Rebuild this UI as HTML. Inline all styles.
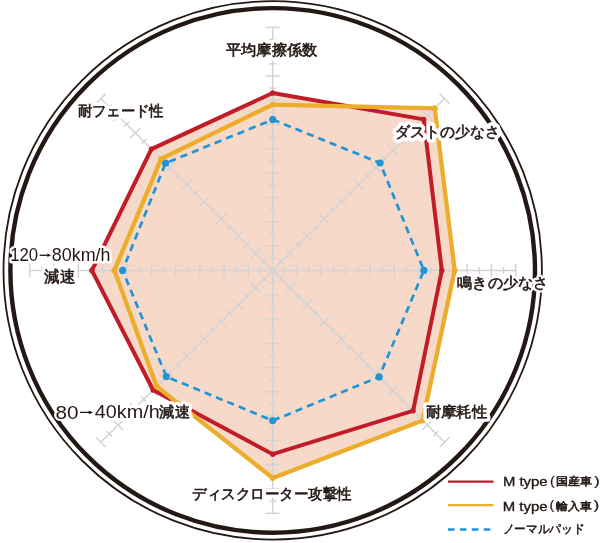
<!DOCTYPE html>
<html lang="ja"><head><meta charset="utf-8">
<style>
html,body{margin:0;padding:0;background:#fff;width:600px;height:543px;overflow:hidden}
svg{display:block;will-change:transform}
text{font-family:"Liberation Sans",sans-serif;font-size:15px;fill:#231815;stroke:#231815;stroke-width:0.6px}
.lat{stroke-width:0}
.halo text{stroke:#fff;stroke-width:9px;stroke-linejoin:round;fill:#fff}
</style></head><body>
<svg width="600" height="543" viewBox="0 0 600 543">
<rect width="600" height="543" fill="#fff"/>
<circle cx="272.7" cy="270.4" r="269.2" fill="none" stroke="#231815" stroke-width="1.8"/>
<circle cx="272.7" cy="270.4" r="262.3" fill="none" stroke="#231815" stroke-width="4.4"/>
<polygon points="272.70,93.00 423.70,119.40 441.80,270.40 413.10,410.80 272.70,454.20 153.10,390.00 91.90,270.40 151.40,149.10" fill="#f7d9c9"/>
<polygon points="272.70,104.60 434.70,108.40 454.70,270.40 422.70,420.40 272.70,478.00 156.70,386.40 114.40,270.40 161.10,158.80" fill="#f7d9c9"/>
<g stroke="#d3d3d6" stroke-width="1.5" fill="none"><line x1="272.70" y1="270.40" x2="272.70" y2="27.40"/><line x1="276.20" y1="258.25" x2="269.20" y2="258.25"/><line x1="279.70" y1="246.10" x2="265.70" y2="246.10"/><line x1="276.20" y1="233.95" x2="269.20" y2="233.95"/><line x1="279.70" y1="221.80" x2="265.70" y2="221.80"/><line x1="276.20" y1="209.65" x2="269.20" y2="209.65"/><line x1="279.70" y1="197.50" x2="265.70" y2="197.50"/><line x1="276.20" y1="185.35" x2="269.20" y2="185.35"/><line x1="279.70" y1="173.20" x2="265.70" y2="173.20"/><line x1="276.20" y1="161.05" x2="269.20" y2="161.05"/><line x1="279.70" y1="148.90" x2="265.70" y2="148.90"/><line x1="276.20" y1="136.75" x2="269.20" y2="136.75"/><line x1="279.70" y1="124.60" x2="265.70" y2="124.60"/><line x1="276.20" y1="112.45" x2="269.20" y2="112.45"/><line x1="279.70" y1="100.30" x2="265.70" y2="100.30"/><line x1="276.20" y1="88.15" x2="269.20" y2="88.15"/><line x1="279.70" y1="76.00" x2="265.70" y2="76.00"/><line x1="276.20" y1="63.85" x2="269.20" y2="63.85"/><line x1="279.70" y1="51.70" x2="265.70" y2="51.70"/><line x1="276.20" y1="39.55" x2="269.20" y2="39.55"/><line x1="279.70" y1="27.40" x2="265.70" y2="27.40"/><line x1="272.70" y1="270.40" x2="444.53" y2="98.57"/><line x1="283.77" y1="264.28" x2="278.82" y2="259.33"/><line x1="294.83" y1="258.17" x2="284.93" y2="248.27"/><line x1="300.95" y1="247.10" x2="296.00" y2="242.15"/><line x1="312.02" y1="240.98" x2="302.12" y2="231.08"/><line x1="318.13" y1="229.92" x2="313.18" y2="224.97"/><line x1="329.20" y1="223.80" x2="319.30" y2="213.90"/><line x1="335.31" y1="212.74" x2="330.36" y2="207.79"/><line x1="346.38" y1="206.62" x2="336.48" y2="196.72"/><line x1="352.50" y1="195.55" x2="347.55" y2="190.60"/><line x1="363.56" y1="189.44" x2="353.66" y2="179.54"/><line x1="369.68" y1="178.37" x2="364.73" y2="173.42"/><line x1="380.75" y1="172.25" x2="370.85" y2="162.35"/><line x1="386.86" y1="161.19" x2="381.91" y2="156.24"/><line x1="397.93" y1="155.07" x2="388.03" y2="145.17"/><line x1="404.05" y1="144.00" x2="399.10" y2="139.05"/><line x1="415.11" y1="137.89" x2="405.21" y2="127.99"/><line x1="421.23" y1="126.82" x2="416.28" y2="121.87"/><line x1="432.29" y1="120.71" x2="422.39" y2="110.81"/><line x1="438.41" y1="109.64" x2="433.46" y2="104.69"/><line x1="449.48" y1="103.52" x2="439.58" y2="93.62"/><line x1="272.70" y1="270.40" x2="515.70" y2="270.40"/><line x1="284.85" y1="273.90" x2="284.85" y2="266.90"/><line x1="297.00" y1="277.40" x2="297.00" y2="263.40"/><line x1="309.15" y1="273.90" x2="309.15" y2="266.90"/><line x1="321.30" y1="277.40" x2="321.30" y2="263.40"/><line x1="333.45" y1="273.90" x2="333.45" y2="266.90"/><line x1="345.60" y1="277.40" x2="345.60" y2="263.40"/><line x1="357.75" y1="273.90" x2="357.75" y2="266.90"/><line x1="369.90" y1="277.40" x2="369.90" y2="263.40"/><line x1="382.05" y1="273.90" x2="382.05" y2="266.90"/><line x1="394.20" y1="277.40" x2="394.20" y2="263.40"/><line x1="406.35" y1="273.90" x2="406.35" y2="266.90"/><line x1="418.50" y1="277.40" x2="418.50" y2="263.40"/><line x1="430.65" y1="273.90" x2="430.65" y2="266.90"/><line x1="442.80" y1="277.40" x2="442.80" y2="263.40"/><line x1="454.95" y1="273.90" x2="454.95" y2="266.90"/><line x1="467.10" y1="277.40" x2="467.10" y2="263.40"/><line x1="479.25" y1="273.90" x2="479.25" y2="266.90"/><line x1="491.40" y1="277.40" x2="491.40" y2="263.40"/><line x1="503.55" y1="273.90" x2="503.55" y2="266.90"/><line x1="515.70" y1="277.40" x2="515.70" y2="263.40"/><line x1="272.70" y1="270.40" x2="444.53" y2="442.23"/><line x1="278.82" y1="281.47" x2="283.77" y2="276.52"/><line x1="284.93" y1="292.53" x2="294.83" y2="282.63"/><line x1="296.00" y1="298.65" x2="300.95" y2="293.70"/><line x1="302.12" y1="309.72" x2="312.02" y2="299.82"/><line x1="313.18" y1="315.83" x2="318.13" y2="310.88"/><line x1="319.30" y1="326.90" x2="329.20" y2="317.00"/><line x1="330.36" y1="333.01" x2="335.31" y2="328.06"/><line x1="336.48" y1="344.08" x2="346.38" y2="334.18"/><line x1="347.55" y1="350.20" x2="352.50" y2="345.25"/><line x1="353.66" y1="361.26" x2="363.56" y2="351.36"/><line x1="364.73" y1="367.38" x2="369.68" y2="362.43"/><line x1="370.85" y1="378.45" x2="380.75" y2="368.55"/><line x1="381.91" y1="384.56" x2="386.86" y2="379.61"/><line x1="388.03" y1="395.63" x2="397.93" y2="385.73"/><line x1="399.10" y1="401.75" x2="404.05" y2="396.80"/><line x1="405.21" y1="412.81" x2="415.11" y2="402.91"/><line x1="416.28" y1="418.93" x2="421.23" y2="413.98"/><line x1="422.39" y1="429.99" x2="432.29" y2="420.09"/><line x1="433.46" y1="436.11" x2="438.41" y2="431.16"/><line x1="439.58" y1="447.18" x2="449.48" y2="437.28"/><line x1="272.70" y1="270.40" x2="272.70" y2="513.40"/><line x1="269.20" y1="282.55" x2="276.20" y2="282.55"/><line x1="265.70" y1="294.70" x2="279.70" y2="294.70"/><line x1="269.20" y1="306.85" x2="276.20" y2="306.85"/><line x1="265.70" y1="319.00" x2="279.70" y2="319.00"/><line x1="269.20" y1="331.15" x2="276.20" y2="331.15"/><line x1="265.70" y1="343.30" x2="279.70" y2="343.30"/><line x1="269.20" y1="355.45" x2="276.20" y2="355.45"/><line x1="265.70" y1="367.60" x2="279.70" y2="367.60"/><line x1="269.20" y1="379.75" x2="276.20" y2="379.75"/><line x1="265.70" y1="391.90" x2="279.70" y2="391.90"/><line x1="269.20" y1="404.05" x2="276.20" y2="404.05"/><line x1="265.70" y1="416.20" x2="279.70" y2="416.20"/><line x1="269.20" y1="428.35" x2="276.20" y2="428.35"/><line x1="265.70" y1="440.50" x2="279.70" y2="440.50"/><line x1="269.20" y1="452.65" x2="276.20" y2="452.65"/><line x1="265.70" y1="464.80" x2="279.70" y2="464.80"/><line x1="269.20" y1="476.95" x2="276.20" y2="476.95"/><line x1="265.70" y1="489.10" x2="279.70" y2="489.10"/><line x1="269.20" y1="501.25" x2="276.20" y2="501.25"/><line x1="265.70" y1="513.40" x2="279.70" y2="513.40"/><line x1="272.70" y1="270.40" x2="100.87" y2="442.23"/><line x1="261.63" y1="276.52" x2="266.58" y2="281.47"/><line x1="250.57" y1="282.63" x2="260.47" y2="292.53"/><line x1="244.45" y1="293.70" x2="249.40" y2="298.65"/><line x1="233.38" y1="299.82" x2="243.28" y2="309.72"/><line x1="227.27" y1="310.88" x2="232.22" y2="315.83"/><line x1="216.20" y1="317.00" x2="226.10" y2="326.90"/><line x1="210.09" y1="328.06" x2="215.04" y2="333.01"/><line x1="199.02" y1="334.18" x2="208.92" y2="344.08"/><line x1="192.90" y1="345.25" x2="197.85" y2="350.20"/><line x1="181.84" y1="351.36" x2="191.74" y2="361.26"/><line x1="175.72" y1="362.43" x2="180.67" y2="367.38"/><line x1="164.65" y1="368.55" x2="174.55" y2="378.45"/><line x1="158.54" y1="379.61" x2="163.49" y2="384.56"/><line x1="147.47" y1="385.73" x2="157.37" y2="395.63"/><line x1="141.35" y1="396.80" x2="146.30" y2="401.75"/><line x1="130.29" y1="402.91" x2="140.19" y2="412.81"/><line x1="124.17" y1="413.98" x2="129.12" y2="418.93"/><line x1="113.11" y1="420.09" x2="123.01" y2="429.99"/><line x1="106.99" y1="431.16" x2="111.94" y2="436.11"/><line x1="95.92" y1="437.28" x2="105.82" y2="447.18"/><line x1="272.70" y1="270.40" x2="29.70" y2="270.40"/><line x1="260.55" y1="266.90" x2="260.55" y2="273.90"/><line x1="248.40" y1="263.40" x2="248.40" y2="277.40"/><line x1="236.25" y1="266.90" x2="236.25" y2="273.90"/><line x1="224.10" y1="263.40" x2="224.10" y2="277.40"/><line x1="211.95" y1="266.90" x2="211.95" y2="273.90"/><line x1="199.80" y1="263.40" x2="199.80" y2="277.40"/><line x1="187.65" y1="266.90" x2="187.65" y2="273.90"/><line x1="175.50" y1="263.40" x2="175.50" y2="277.40"/><line x1="163.35" y1="266.90" x2="163.35" y2="273.90"/><line x1="151.20" y1="263.40" x2="151.20" y2="277.40"/><line x1="139.05" y1="266.90" x2="139.05" y2="273.90"/><line x1="126.90" y1="263.40" x2="126.90" y2="277.40"/><line x1="114.75" y1="266.90" x2="114.75" y2="273.90"/><line x1="102.60" y1="263.40" x2="102.60" y2="277.40"/><line x1="90.45" y1="266.90" x2="90.45" y2="273.90"/><line x1="78.30" y1="263.40" x2="78.30" y2="277.40"/><line x1="66.15" y1="266.90" x2="66.15" y2="273.90"/><line x1="54.00" y1="263.40" x2="54.00" y2="277.40"/><line x1="41.85" y1="266.90" x2="41.85" y2="273.90"/><line x1="29.70" y1="263.40" x2="29.70" y2="277.40"/><line x1="272.70" y1="270.40" x2="100.87" y2="98.57"/><line x1="266.58" y1="259.33" x2="261.63" y2="264.28"/><line x1="260.47" y1="248.27" x2="250.57" y2="258.17"/><line x1="249.40" y1="242.15" x2="244.45" y2="247.10"/><line x1="243.28" y1="231.08" x2="233.38" y2="240.98"/><line x1="232.22" y1="224.97" x2="227.27" y2="229.92"/><line x1="226.10" y1="213.90" x2="216.20" y2="223.80"/><line x1="215.04" y1="207.79" x2="210.09" y2="212.74"/><line x1="208.92" y1="196.72" x2="199.02" y2="206.62"/><line x1="197.85" y1="190.60" x2="192.90" y2="195.55"/><line x1="191.74" y1="179.54" x2="181.84" y2="189.44"/><line x1="180.67" y1="173.42" x2="175.72" y2="178.37"/><line x1="174.55" y1="162.35" x2="164.65" y2="172.25"/><line x1="163.49" y1="156.24" x2="158.54" y2="161.19"/><line x1="157.37" y1="145.17" x2="147.47" y2="155.07"/><line x1="146.30" y1="139.05" x2="141.35" y2="144.00"/><line x1="140.19" y1="127.99" x2="130.29" y2="137.89"/><line x1="129.12" y1="121.87" x2="124.17" y2="126.82"/><line x1="123.01" y1="110.81" x2="113.11" y2="120.71"/><line x1="111.94" y1="104.69" x2="106.99" y2="109.64"/><line x1="105.82" y1="93.62" x2="95.92" y2="103.52"/></g>
<polygon points="272.70,119.60 380.10,163.00 423.90,270.40 379.20,376.90 272.70,420.60 166.40,376.70 122.60,270.40 165.50,163.20" fill="none" stroke="#1f95d6" stroke-width="2.7" stroke-dasharray="7.2 5.1"/>
<circle cx="272.70" cy="119.60" r="3.6" fill="#1f95d6"/><circle cx="380.10" cy="163.00" r="3.6" fill="#1f95d6"/><circle cx="423.90" cy="270.40" r="3.6" fill="#1f95d6"/><circle cx="379.20" cy="376.90" r="3.6" fill="#1f95d6"/><circle cx="272.70" cy="420.60" r="3.6" fill="#1f95d6"/><circle cx="166.40" cy="376.70" r="3.6" fill="#1f95d6"/><circle cx="122.60" cy="270.40" r="3.6" fill="#1f95d6"/><circle cx="165.50" cy="163.20" r="3.6" fill="#1f95d6"/>
<polygon points="272.70,93.00 423.70,119.40 441.80,270.40 413.10,410.80 272.70,454.20 153.10,390.00 91.90,270.40 151.40,149.10" fill="none" stroke="#c21c28" stroke-width="4" stroke-linejoin="miter"/>
<circle cx="272.70" cy="93.00" r="2.7" fill="#c21c28"/><circle cx="423.70" cy="119.40" r="2.7" fill="#c21c28"/><circle cx="441.80" cy="270.40" r="2.7" fill="#c21c28"/><circle cx="413.10" cy="410.80" r="2.7" fill="#c21c28"/><circle cx="272.70" cy="454.20" r="2.7" fill="#c21c28"/><circle cx="153.10" cy="390.00" r="2.7" fill="#c21c28"/><circle cx="91.90" cy="270.40" r="2.7" fill="#c21c28"/><circle cx="151.40" cy="149.10" r="2.7" fill="#c21c28"/>
<polygon points="272.70,104.60 434.70,108.40 454.70,270.40 422.70,420.40 272.70,478.00 156.70,386.40 114.40,270.40 161.10,158.80" fill="none" stroke="#ebad2b" stroke-width="4.3" stroke-linejoin="miter"/>
<circle cx="272.70" cy="104.60" r="2.9" fill="#ebad2b"/><circle cx="434.70" cy="108.40" r="2.9" fill="#ebad2b"/><circle cx="454.70" cy="270.40" r="2.9" fill="#ebad2b"/><circle cx="422.70" cy="420.40" r="2.9" fill="#ebad2b"/><circle cx="272.70" cy="478.00" r="2.9" fill="#ebad2b"/><circle cx="156.70" cy="386.40" r="2.9" fill="#ebad2b"/><circle cx="114.40" cy="270.40" r="2.9" fill="#ebad2b"/><circle cx="161.10" cy="158.80" r="2.9" fill="#ebad2b"/>
<g class="halo"><text x="225.75" y="55.12" style="font-size:15.00px;stroke-width:7px" textLength="92.00" lengthAdjust="spacingAndGlyphs">平均摩擦係数</text><text x="395.20" y="136.62" style="font-size:15.00px;stroke-width:8px" textLength="104.40" lengthAdjust="spacingAndGlyphs">ダストの少なさ</text><text x="457.40" y="288.35" style="font-size:15.00px;stroke-width:5px" textLength="90.60" lengthAdjust="spacingAndGlyphs">鳴きの少なさ</text><text x="425.70" y="416.73" style="font-size:15.00px;stroke-width:7px" textLength="61.60" lengthAdjust="spacingAndGlyphs">耐摩耗性</text><text x="192.00" y="498.58" style="font-size:15.00px;stroke-width:7px" textLength="159.75" lengthAdjust="spacingAndGlyphs">ディスクローター攻撃性</text><text x="55.60" y="418.50" style="font-size:17.88px;stroke-width:4px" textLength="23.00" lengthAdjust="spacingAndGlyphs">80</text><text x="94.80" y="418.30" style="font-size:18.15px;stroke-width:7px" textLength="64.90" lengthAdjust="spacingAndGlyphs">40km/h</text><text x="159.40" y="417.32" style="font-size:15.00px;stroke-width:7px" textLength="30.45" lengthAdjust="spacingAndGlyphs">減速</text><text x="10.25" y="261.00" style="font-size:17.88px;stroke-width:5px" textLength="27.95" lengthAdjust="spacingAndGlyphs">120</text><text x="51.80" y="260.75" style="font-size:17.88px;stroke-width:5px" textLength="58.70" lengthAdjust="spacingAndGlyphs">80km/h</text><text x="44.00" y="281.68" style="font-size:15.50px;stroke-width:7px" textLength="31.00" lengthAdjust="spacingAndGlyphs">減速</text><text x="77.50" y="116.28" style="font-size:15.00px;stroke-width:7px" textLength="86.25" lengthAdjust="spacingAndGlyphs">耐フェード性</text></g>
<g><text x="225.75" y="55.12" style="font-size:15.00px" textLength="92.00" lengthAdjust="spacingAndGlyphs">平均摩擦係数</text><text x="395.20" y="136.62" style="font-size:15.00px" textLength="104.40" lengthAdjust="spacingAndGlyphs">ダストの少なさ</text><text x="457.40" y="288.35" style="font-size:15.00px" textLength="90.60" lengthAdjust="spacingAndGlyphs">鳴きの少なさ</text><text x="425.70" y="416.73" style="font-size:15.00px" textLength="61.60" lengthAdjust="spacingAndGlyphs">耐摩耗性</text><text x="192.00" y="498.58" style="font-size:15.00px" textLength="159.75" lengthAdjust="spacingAndGlyphs">ディスクローター攻撃性</text><text class="lat" x="55.60" y="418.50" style="font-size:17.88px" textLength="23.00" lengthAdjust="spacingAndGlyphs">80</text><text class="lat" x="94.80" y="418.30" style="font-size:18.15px" textLength="64.90" lengthAdjust="spacingAndGlyphs">40km/h</text><text x="159.40" y="417.32" style="font-size:15.00px" textLength="30.45" lengthAdjust="spacingAndGlyphs">減速</text><text class="lat" x="10.25" y="261.00" style="font-size:17.88px" textLength="27.95" lengthAdjust="spacingAndGlyphs">120</text><text class="lat" x="51.80" y="260.75" style="font-size:17.88px" textLength="58.70" lengthAdjust="spacingAndGlyphs">80km/h</text><text x="44.00" y="281.68" style="font-size:15.50px" textLength="31.00" lengthAdjust="spacingAndGlyphs">減速</text><text x="77.50" y="116.28" style="font-size:15.00px" textLength="86.25" lengthAdjust="spacingAndGlyphs">耐フェード性</text><path d="M39.70 255.30H47.80" stroke="#231815" stroke-width="1.3" fill="none"/><path d="M47.30 253.50L51.30 255.30L47.30 257.10Z" fill="#231815" stroke="none"/><path d="M80.00 412.40H89.30" stroke="#231815" stroke-width="1.3" fill="none"/><path d="M88.80 410.60L93.20 412.40L88.80 414.20Z" fill="#231815" stroke="none"/></g>
<line x1="448" y1="481.7" x2="493.5" y2="481.7" stroke="#c21c28" stroke-width="2.2"/>
<line x1="448" y1="505.2" x2="493.5" y2="505.2" stroke="#ebad2b" stroke-width="2.3"/>
<line x1="448" y1="529.5" x2="490.8" y2="529.5" stroke="#1f95d6" stroke-width="2.3" stroke-dasharray="6.6 5.3"/>
<text class="lat" x="503.00" y="485.50" style="font-size:13.54px;stroke-width:0.35px" textLength="44.50" lengthAdjust="spacingAndGlyphs">M type</text><text class="lat" x="550.00" y="484.70" style="font-size:12.89px;stroke-width:0.2px" textLength="4.80" lengthAdjust="spacingAndGlyphs">(</text><text x="555.60" y="485.15" style="font-size:10.80px;stroke-width:0.6px" textLength="36.00" lengthAdjust="spacingAndGlyphs">国産車</text><text class="lat" x="594.00" y="484.70" style="font-size:12.89px;stroke-width:0.2px" textLength="5.80" lengthAdjust="spacingAndGlyphs">)</text><text class="lat" x="502.70" y="510.50" style="font-size:13.54px;stroke-width:0.35px" textLength="44.80" lengthAdjust="spacingAndGlyphs">M type</text><text class="lat" x="549.50" y="508.70" style="font-size:12.89px;stroke-width:0.2px" textLength="4.80" lengthAdjust="spacingAndGlyphs">(</text><text x="556.00" y="509.75" style="font-size:11.00px;stroke-width:0.6px" textLength="35.60" lengthAdjust="spacingAndGlyphs">輸入車</text><text class="lat" x="593.50" y="508.70" style="font-size:12.89px;stroke-width:0.2px" textLength="5.80" lengthAdjust="spacingAndGlyphs">)</text><text x="502.50" y="533.25" style="font-size:12.00px;stroke-width:0.5px" textLength="82.00" lengthAdjust="spacingAndGlyphs">ノーマルパッド</text>
</svg>
</body></html>
